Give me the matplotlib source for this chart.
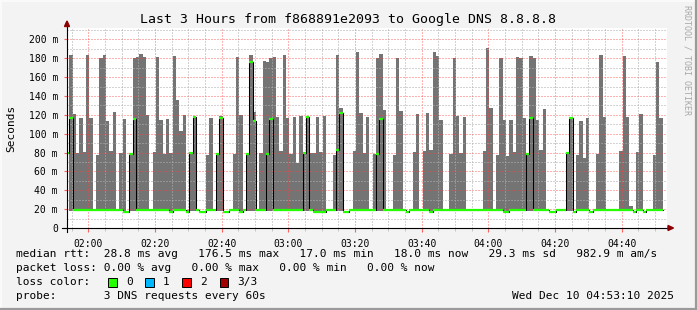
import matplotlib
matplotlib.use('Agg')
import matplotlib.pyplot as plt
import numpy as np
from matplotlib.lines import Line2D
from matplotlib.patches import Rectangle, Polygon

# ---------------- data (ms), one value per minute ----------------
smoke_max = [
    81, 183, 121, 79, 117, 81, 183, 117, 19, 77,
    180, 183, 113, 82, 123, 19, 79.5, 116, 17.5, 79,
    180, 181.6, 185, 181, 120, 19, 81, 181, 114, 78,
    116, 79.5, 182, 136, 103, 120, 19, 80, 118.5, 19,
    17.5, 17.5, 77, 117, 19, 78.5, 118.5, 17.5, 17.5, 19,
    78, 181, 120, 19, 78.5, 183, 123, 19, 79.5, 177,
    176, 180, 181, 118, 82, 183, 117, 78, 118, 69,
    119, 80.5, 118.5, 79.5, 80, 117.5, 81, 119, 19, 19,
    77, 183, 127, 17.5, 17.5, 19, 82, 187, 122, 80,
    118, 19, 78, 180, 185, 125, 19, 19, 77, 180,
    124, 19, 17.5, 19, 81, 121, 19, 82, 122, 83,
    187, 182, 114, 19, 19, 78, 180, 119, 80, 118,
    19, 19, 19, 19, 19, 82, 191, 127, 19, 77,
    180, 114, 76, 114, 81, 181, 180, 117, 78.5, 182,
    180, 114, 83, 126, 19, 17.5, 17.5, 19, 19, 19,
    80.5, 117.5, 17.5, 77, 113, 74.5, 117, 17.5, 19, 78,
    183, 117.5, 19, 19, 19, 19, 82, 182, 118, 23,
    17.5, 81, 121, 17.5, 19, 19, 77, 176, 117,
]
median_rtt = [
    80, 117, 19, 19, 19.5, 19, 19, 19, 19, 19,
    19, 19, 19, 19, 19, 19, 19, 17.3, 17.3, 78,
    116, 19, 19, 19, 19, 19, 19, 19, 19, 19,
    19, 17.3, 19, 19, 19, 19, 17.3, 80, 118, 19,
    17.3, 17.3, 19, 19, 19, 78, 117, 17.3, 17.3, 19,
    19, 19, 17.3, 19, 78, 176, 113, 19, 19, 19,
    78, 116, 19, 19, 19, 19, 19, 19, 19, 19,
    19, 80, 118, 19, 17.3, 17.3, 17.3, 17.3, 19, 19,
    19, 82.5, 122, 17.3, 17.3, 19, 19, 19, 19, 19,
    19, 19, 19, 78, 116, 19, 19, 19, 19, 19,
    19, 19, 17.3, 19, 19, 19, 19, 19, 19, 17.3,
    19, 19, 19, 19, 19, 19, 19, 19, 19, 19,
    19, 19, 19, 19, 19, 19, 19, 19, 19, 19,
    19, 17.3, 17.3, 19, 19, 19, 19.5, 19, 78, 117,
    19, 19, 19, 19, 19, 17.3, 17.3, 19, 19, 19,
    80, 117, 17.3, 19, 19, 19, 19, 17.3, 19, 19,
    19, 19, 19, 19, 19, 19, 19, 19, 19, 19,
    17.3, 19, 19, 17.3, 19, 19, 19, 19, 19,
]
smoke_min = [
    79, 18, 18, 18, 18, 18, 18, 18, 18, 18,
    18, 18, 18, 18, 18, 18, 18, 16.8, 16.8, 18,
    18, 18, 18, 18, 18, 18, 18, 18, 18, 18,
    18, 16.8, 18, 18, 18, 18, 16.8, 18, 18, 18,
    16.8, 16.8, 18, 18, 18, 18, 18, 16.8, 16.8, 18,
    18, 18, 16.8, 18, 18, 18, 18, 18, 18, 18,
    18, 18, 18, 18, 18, 18, 18, 18, 18, 18,
    18, 18, 18, 18, 16.8, 16.8, 16.8, 16.8, 18, 18,
    18, 18, 18, 16.8, 16.8, 18, 18, 18, 18, 18,
    18, 18, 18, 18, 18, 18, 18, 18, 18, 18,
    18, 18, 16.8, 18, 18, 18, 18, 18, 18, 16.8,
    18, 18, 18, 18, 18, 18, 18, 18, 18, 18,
    18, 18, 18, 18, 18, 18, 18, 18, 18, 18,
    18, 16.8, 16.8, 18, 18, 18, 18, 18, 18, 18,
    18, 18, 18, 18, 18, 16.8, 16.8, 18, 18, 18,
    18, 18, 16.8, 18, 18, 18, 18, 16.8, 18, 18,
    18, 18, 18, 18, 18, 18, 18, 18, 18, 18,
    16.8, 18, 18, 16.8, 18, 18, 18, 18, 18,
]
x_tick_minutes = [120, 140, 160, 180, 200, 220, 240, 260, 280]
x_tick_labels = ['02:00', '02:20', '02:40', '03:00', '03:20', '03:40', '04:00', '04:20', '04:40']
y_ticks = [0, 20, 40, 60, 80, 100, 120, 140, 160, 180, 200]
y_tick_labels = ['0', '20 m', '40 m', '60 m', '80 m', '100 m', '120 m', '140 m', '160 m', '180 m', '200 m']
loss_labels = ['0', '1', '2', '3/3']
loss_colors = ['#26ff00', '#00b8ff', '#ff0000', '#a00000']

title = 'Last 3 Hours from f868891e2093 to Google DNS 8.8.8.8'
legend_lines = [
    'median rtt:  28.8 ms avg   176.5 ms max   17.0 ms min   18.0 ms now   29.3 ms sd   982.9 m am/s',
    'packet loss: 0.00 % avg   0.00 % max   0.00 % min   0.00 % now',
    'loss color:',
    'probe:       3 DNS requests every 60s',
]
stamp = 'Wed Dec 10 04:53:10 2025'

# ---------------- layout ----------------
W, H = 697, 310
MONO = 'DejaVu Sans Mono'
def fx(px):
    return px / W
def fy(py):
    return 1 - py / H

fig = plt.figure(figsize=(W / 100, H / 100), dpi=100, facecolor='#f3f3f3')
ax = fig.add_axes([fx(67), fy(228), fx(667) - fx(67), fy(27.6) - fy(228)])
ax.set_facecolor('white')

t0 = 113.6  # axis start, minutes after midnight
n = len(smoke_max)
left = t0 - 0.35 + np.arange(n)
edges = np.append(left, left[-1] + 1)
mx = np.append(smoke_max, smoke_max[-1])
mn = np.append(smoke_min, smoke_min[-1])
md = np.append(median_rtt, median_rtt[-1])

ax.fill_between(edges, mn, mx, step='post', color='#747474', linewidth=0, zorder=2)
ax.step(edges, md, where='post', color='#000000', lw=0.75, zorder=4)
ax.hlines(median_rtt, left, left + 1, colors=loss_colors[0], lw=1.6, zorder=5)

ax.set_xlim(t0, t0 + 180)
ax.set_ylim(0, 212.5)

ax.set_xticks(x_tick_minutes)
ax.set_xticklabels(x_tick_labels, family=MONO, fontsize=7)
ax.set_xticks([m for m in range(115, 294, 5) if m % 20 != 0], minor=True)
ax.set_yticks(y_ticks)
ax.set_yticklabels(y_tick_labels, family=MONO, fontsize=7)
ax.set_yticks(list(range(10, 211, 20)), minor=True)

ax.grid(which='minor', color='#b0b0b0', alpha=0.55, linestyle=(0, (1.4, 1.4)), lw=0.72, antialiased=False)
ax.grid(which='major', color='#ff4040', alpha=0.4, linestyle=(0, (1.4, 1.4)), lw=0.72, antialiased=False)
ax.set_axisbelow(False)
for s in ax.spines.values():
    s.set_visible(False)
ax.tick_params(axis='x', which='major', length=3, color='#ff6060', pad=5)
ax.tick_params(axis='x', which='minor', length=2, color='#bbbbbb')
ax.tick_params(axis='y', which='major', length=2.5, color='#ff6060', pad=4)
ax.tick_params(axis='y', which='minor', length=0)

# axis lines with arrows
fig.add_artist(Line2D([fx(62), fx(669)], [fy(228), fy(228)], color='black', lw=0.8, zorder=10))
fig.add_artist(Line2D([fx(67), fx(67)], [fy(232), fy(25)], color='black', lw=0.8, zorder=10))
fig.add_artist(Polygon([[fx(668), fy(225.5)], [fx(673.5), fy(228)], [fx(668), fy(230.5)]],
                       closed=True, color='#8b0000', transform=fig.transFigure, zorder=11))
fig.add_artist(Polygon([[fx(64.5), fy(26.5)], [fx(67), fy(21)], [fx(69.5), fy(26.5)]],
                       closed=True, color='#8b0000', transform=fig.transFigure, zorder=11))

# texts
fig.text(0.5, fy(19), title, ha='center', va='center', family=MONO, fontsize=9.5)
fig.text(fx(11), fy(128), 'Seconds', rotation=90, ha='center', va='center', family=MONO, fontsize=8)
fig.text(fx(687.5), fy(5), 'RRDTOOL / TOBI OETIKER', rotation=-90, ha='center', va='top',
         family=MONO, fontsize=6, color='#a8a8a8')

line_y = [254, 268, 282, 296]
for txt, yy in zip(legend_lines, line_y):
    fig.text(fx(16.4), fy(yy), txt, ha='left', va='center', family=MONO, fontsize=8)
fig.text(fx(512.4), fy(296), stamp, ha='left', va='center', family=MONO, fontsize=8)

for k, (lab, col) in enumerate(zip(loss_labels, loss_colors)):
    bx = 108 + 37.2 * k
    fig.add_artist(Rectangle((fx(bx), fy(286.5)), fx(8.5), fy(278) - fy(286.5),
                             facecolor=col, edgecolor='black', lw=0.7, transform=fig.transFigure))
    fig.text(fx(bx + 17.8), fy(282), lab, ha='left', va='center', family=MONO, fontsize=8)

# figure frame (3D style)
fig.add_artist(Line2D([0, 1], [fy(0.5), fy(0.5)], color='#fcfcfc', lw=1.2))
fig.add_artist(Line2D([fx(0.5), fx(0.5)], [0, 1], color='#fcfcfc', lw=1.2))
fig.add_artist(Line2D([0, 1], [fy(309), fy(309)], color='#9a9a9a', lw=1.6))
fig.add_artist(Line2D([fx(696), fx(696)], [0, 1], color='#9a9a9a', lw=1.6))

fig.savefig('out.png', dpi=100, facecolor=fig.get_facecolor())
